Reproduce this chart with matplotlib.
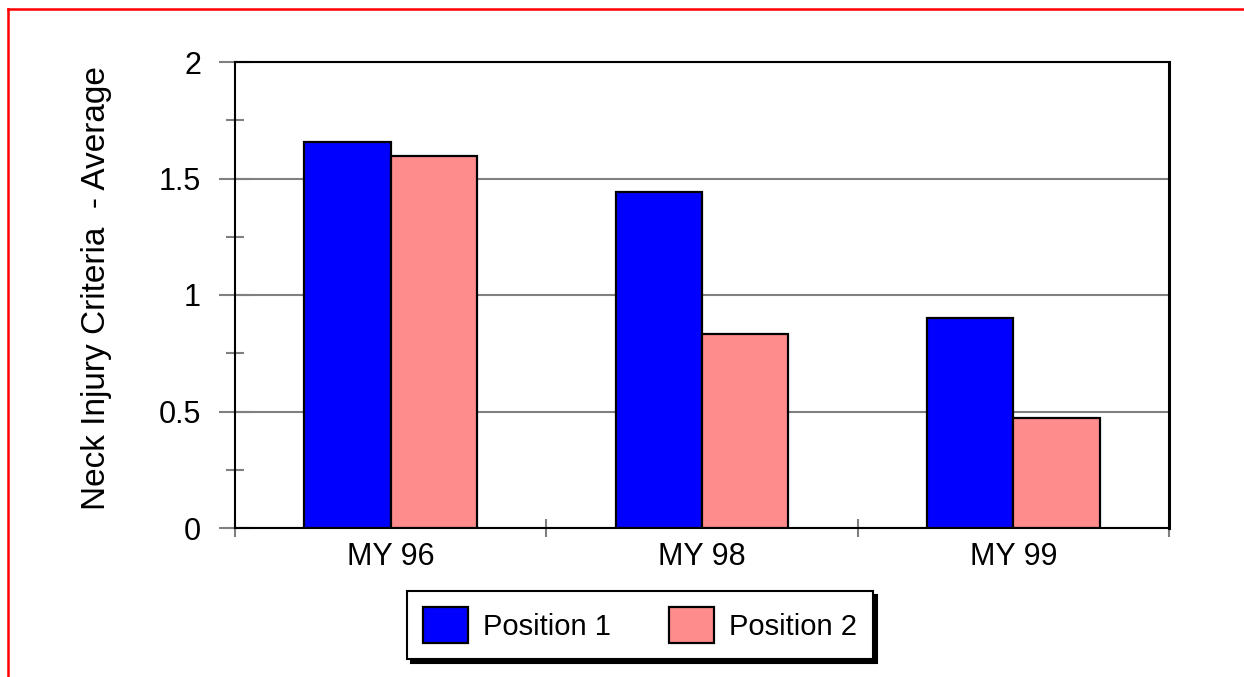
import matplotlib
matplotlib.use("Agg")
import matplotlib.pyplot as plt
import numpy as np
from matplotlib.lines import Line2D
from matplotlib.ticker import MultipleLocator

plt.rcParams["font.family"] = ["Liberation Sans", "DejaVu Sans"]

categories = ["MY 96", "MY 98", "MY 99"]
position_1 = [1.655, 1.442, 0.90]
position_2 = [1.597, 0.833, 0.472]
series_names = ["Position 1", "Position 2"]
colors = ["#0000ff", "#ff8c8c"]

W, H = 1244, 677
fig = plt.figure(figsize=(W / 100, H / 100), dpi=100)
ax = fig.add_axes([235 / W, (H - 528) / H, 934 / W, 466 / H])

x = np.arange(len(categories))
width = 0.277
for i, (vals, name, col) in enumerate(zip([position_1, position_2], series_names, colors)):
    ax.bar(x + (i - 0.5) * width, vals, width, color=col, edgecolor="black",
           linewidth=1.6, label=name, zorder=3)

ax.set_xlim(-0.5, 2.5)
ax.set_ylim(0, 2)
ax.yaxis.set_major_locator(MultipleLocator(0.5))
ax.yaxis.set_minor_locator(MultipleLocator(0.25))
ax.yaxis.set_major_formatter(plt.FuncFormatter(lambda v, p: f"{v:g}"))
ax.grid(axis="y", which="major", color="#808080", linewidth=1.5, zorder=1)

# category labels on minor ticks, separator ticks between categories
ax.set_xticks(x, categories, minor=True)
ax.set_xticks(np.arange(len(categories) + 1) - 0.5)
ax.set_xticklabels([])
ax.tick_params(axis="x", which="minor", length=0, labelsize=22, pad=10)
ax.tick_params(axis="x", which="major", direction="inout", length=13,
               color="#808080", width=1.5)
ax.tick_params(axis="y", which="major", direction="inout", length=23,
               color="#808080", width=1.5, labelsize=22, pad=13)
ax.tick_params(axis="y", which="minor", direction="inout", length=13,
               color="#808080", width=1.5)

for side in ["left", "top", "bottom"]:
    ax.spines[side].set_linewidth(1.5)
ax.spines["right"].set_linewidth(2.2)

fig.text(96 / W, 1 - 288 / H, "Neck Injury Criteria  - Average", rotation=90,
         ha="center", va="center", fontsize=24)

leg = fig.legend(loc="center", bbox_to_anchor=(640 / W, 1 - 625 / H), ncol=2,
                 fontsize=21, frameon=True, fancybox=False,
                 shadow={"color": "black", "alpha": 1, "ox": 3, "oy": -3},
                 handlelength=1.55, handleheight=1.5, handletextpad=0.5,
                 columnspacing=2.0, borderpad=0.55)
leg.get_frame().set_edgecolor("black")
leg.get_frame().set_linewidth(1.5)

# red frame lines (top and left)
fig.add_artist(Line2D([8 / W, 1], [1 - 9 / H, 1 - 9 / H], color="red", linewidth=1.8))
fig.add_artist(Line2D([8 / W, 8 / W], [0, 1 - 9 / H], color="red", linewidth=1.8))

fig.savefig("out.png", dpi=100)
